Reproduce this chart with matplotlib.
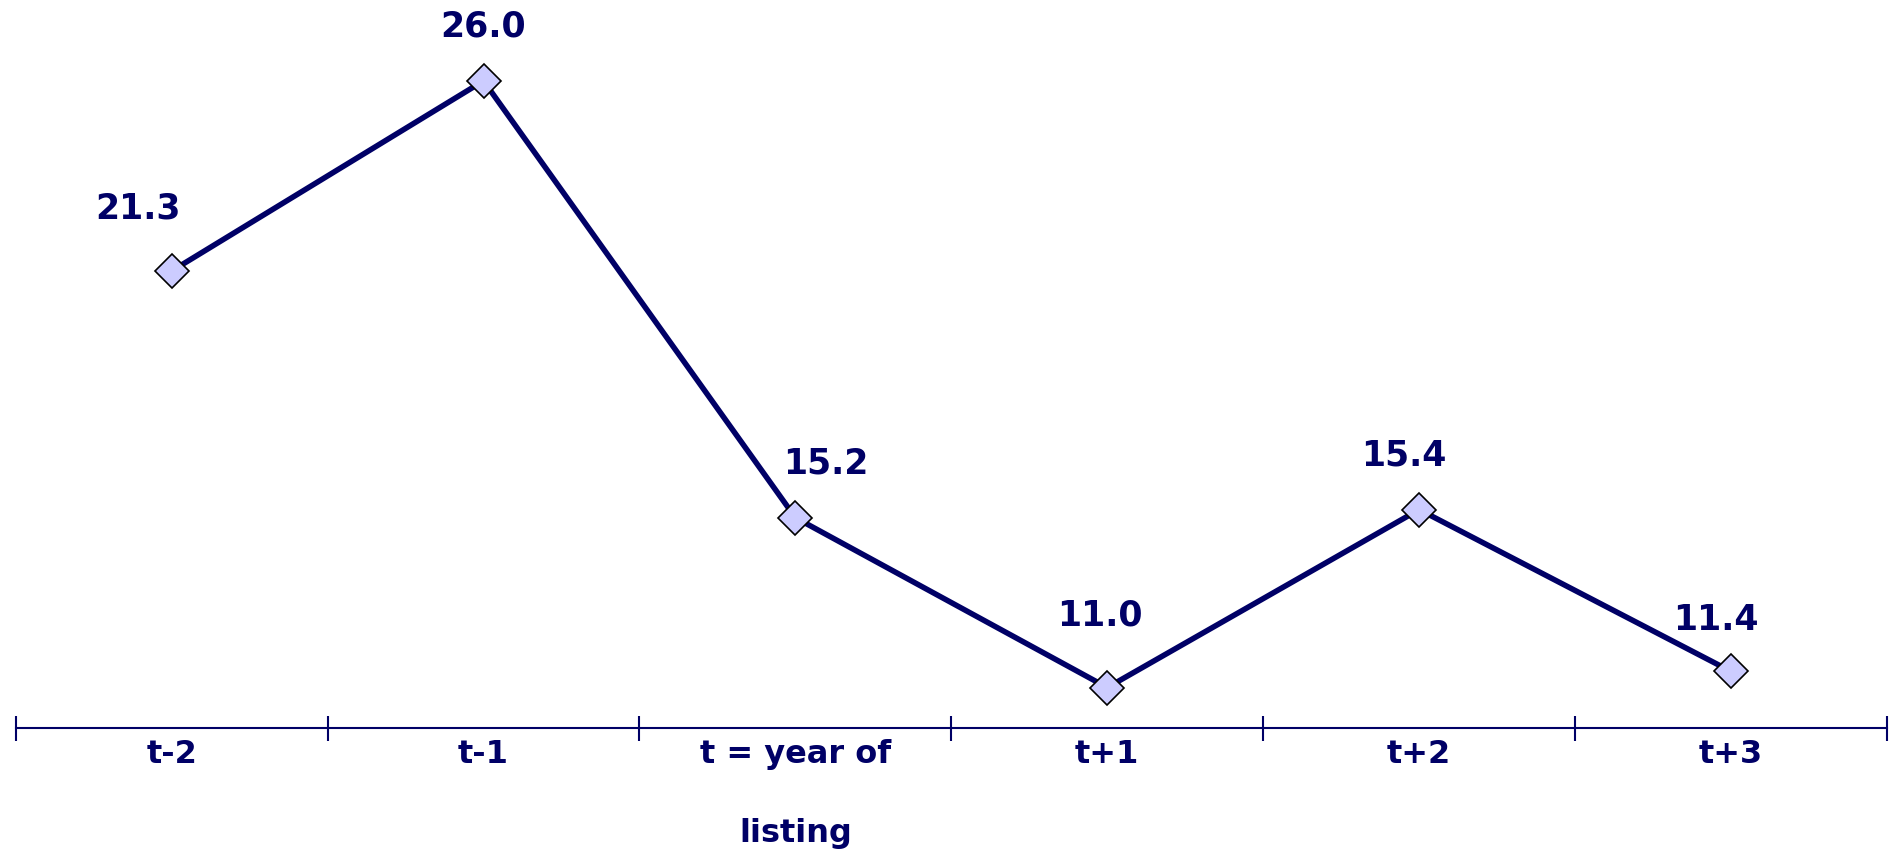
import matplotlib.pyplot as plt

# categories and values
periods = ['t-2', 't-1', 't = year of\nlisting', 't+1', 't+2', 't+3']
values = [21.3, 26.0, 15.2, 11.0, 15.4, 11.4]
# label offsets in points (dx, dy) from each marker
label_offsets = [(-24, 45), (0, 39), (22, 39), (-5, 52), (-11, 39), (-11, 37)]

NAVY = '#000066'

def main():
    fig = plt.figure(figsize=(18.94, 8.55), dpi=100)
    ax = fig.add_axes([15.7 / 1894, 1 - 728 / 855, (1887 - 15.7) / 1894, 728 / 855])

    xs = list(range(len(periods)))
    ax.plot(xs, values, color=NAVY, linewidth=4, marker='D', markersize=17,
            markerfacecolor='#ccccff', markeredgecolor='black',
            markeredgewidth=1.2, zorder=3)

    # value labels above the markers
    for x, v, (dx, dy) in zip(xs, values, label_offsets):
        ax.annotate(f'{v:.1f}', (x, v), xytext=(dx, dy),
                    textcoords='offset points', ha='center', va='center',
                    fontsize=25, fontweight='bold', color=NAVY)

    ax.set_xlim(-0.5, len(periods) - 0.5)
    ax.set_ylim(10, 28)

    for side in ['top', 'right', 'left']:
        ax.spines[side].set_visible(False)
    ax.spines['bottom'].set_color(NAVY)
    ax.spines['bottom'].set_linewidth(1.5)
    ax.set_yticks([])

    # tick marks between categories, labels at the centres
    ax.set_xticks([i - 0.5 for i in range(len(periods) + 1)], minor=True)
    ax.set_xticks(xs)
    ax.set_xticklabels(periods, fontsize=23, fontweight='bold', color=NAVY,
                       linespacing=3.0, va='top')
    ax.tick_params(axis='x', which='major', length=0, pad=8)
    ax.tick_params(axis='x', which='minor', direction='inout', length=18,
                   width=1.5, color=NAVY)

    fig.savefig('out.png', dpi=100)

main()
